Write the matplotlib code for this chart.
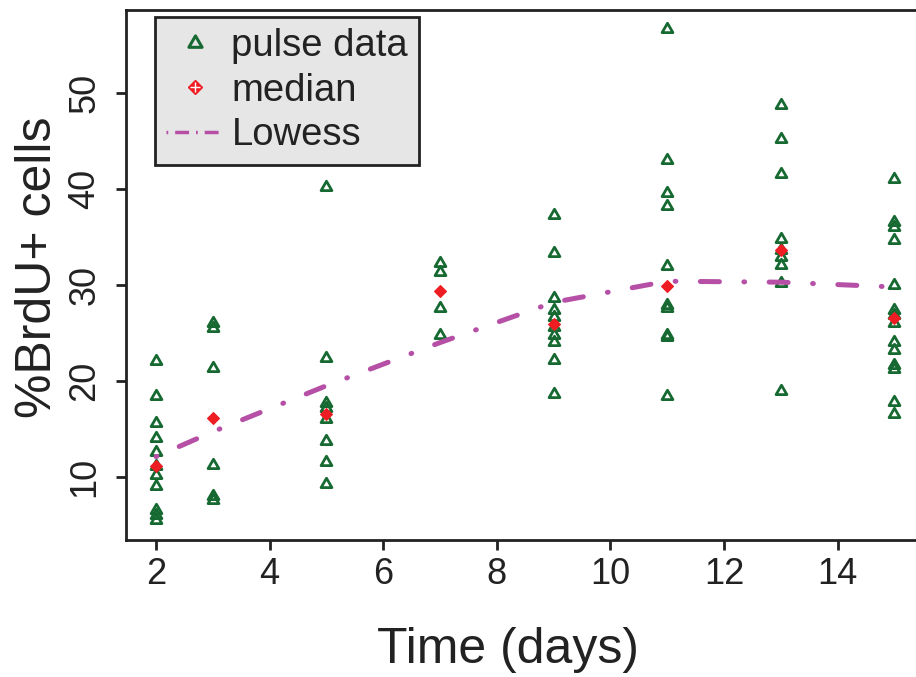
import numpy as np
import matplotlib
matplotlib.use("Agg")
import matplotlib.pyplot as plt
from matplotlib.lines import Line2D
from matplotlib.path import Path

plt.rcParams['font.family'] = ['Liberation Sans', 'DejaVu Sans']

# pulse data, one list per day
days = [2, 3, 5, 7, 9, 11, 13, 15]
pulse = {
    2: [22.1, 18.4, 15.6, 14.0, 12.6, 11.1, 10.2, 9.0, 6.5, 6.0, 5.5],
    3: [26.0, 25.5, 21.3, 11.2, 8.0, 7.6],
    5: [40.2, 22.4, 17.7, 17.2, 16.0, 13.7, 11.5, 9.2],
    7: [32.3, 31.4, 27.6, 24.8],
    9: [37.3, 33.3, 28.6, 27.4, 26.7, 25.6, 24.8, 24.1, 22.2, 18.6],
    11: [56.7, 43.0, 39.6, 38.3, 32.0, 27.9, 27.6, 24.8, 24.6, 18.4],
    13: [48.8, 45.2, 41.6, 34.8, 33.7, 32.9, 32.1, 30.2, 18.9],
    15: [41.1, 36.6, 36.1, 34.7, 30.0, 27.4, 26.9, 26.0, 24.1, 23.2, 21.7, 21.2, 17.8, 16.5],
}
medians = [11.1, 16.1, 16.5, 29.4, 25.9, 29.9, 33.7, 26.6]
lowess = [12.1, 14.7, 19.5, 24.0, 28.2, 30.4, 30.3, 29.8]

green = '#176932'
red = '#EE1D23'
purple = '#B650A6'

fig = plt.figure(figsize=(9.16, 6.77), dpi=100)
ax = fig.add_axes([126/916, 1 - 540/677, (925.6 - 126)/916, 530/677])

# open equilateral triangle like R's pch 2
tri = Path([(0, 1), (-0.866, -0.5), (0.866, -0.5), (0, 1)], closed=True)

xs = np.concatenate([[d] * len(pulse[d]) for d in days])
ys = np.concatenate([pulse[d] for d in days])
ax.plot(xs, ys, linestyle='none', marker=tri, ms=9, mfc='none', mec=green, mew=2)

ax.plot(days, lowess, color=purple, lw=3.6, solid_capstyle='round',
        dash_capstyle='round', linestyle=(0, (0.15, 4.9, 3.8, 4.9)))

ax.plot(days, medians, linestyle='none', marker='D', ms=6, mfc=red, mec=red, mew=0.8)

ax.set_xlim(1.47, 15.55)
ax.set_ylim(3.4, 58.7)
ax.set_xticks([2, 4, 6, 8, 10, 12, 14])
ax.set_yticks([10, 20, 30, 40, 50])
ax.set_yticklabels(['10', '20', '30', '40', '50'], rotation=90, va='center')
ax.tick_params(labelsize=26, length=7, width=2, color='#222222', labelcolor='#222222')
ax.tick_params(axis='x', pad=5)
ax.tick_params(axis='y', pad=10)
for s in ax.spines.values():
    s.set_linewidth(2)
    s.set_color('#222222')

ax.set_xlabel('Time (days)', fontsize=36, color='#222222')
ax.set_ylabel('%BrdU+ cells', fontsize=36, color='#222222')
ax.xaxis.set_label_coords(0.478, -0.2075)
ax.xaxis.label.set_va('center')
ax.yaxis.set_label_coords(-0.11, 0.515)
ax.yaxis.label.set_va('center')

h_tri = Line2D([], [], linestyle='none', marker=tri, ms=11, mfc='none', mec=green, mew=2.2)
h_med = (Line2D([], [], linestyle='none', marker='D', ms=7.5, mfc=red, mec=red),
         Line2D([], [], linestyle='none', marker='+', ms=7.5, mec='white', mew=1))
h_low = Line2D([], [], color=purple, lw=2.5, linestyle=(0, (0.5, 2, 4, 2)))
leg = ax.legend([h_tri, h_med, h_low], ['pulse data', 'median', 'Lowess'],
                loc='upper left', bbox_to_anchor=(0.0363, 0.987), borderaxespad=0,
                fontsize=27.5, frameon=True, fancybox=False, framealpha=1,
                facecolor='#E6E6E6', edgecolor='#222222', handlelength=1.5,
                handletextpad=0.2, labelspacing=0.22, borderpad=0.3)
leg.get_frame().set_linewidth(2)
for t in leg.get_texts():
    t.set_color('#222222')

fig.savefig('out.png', dpi=100)
